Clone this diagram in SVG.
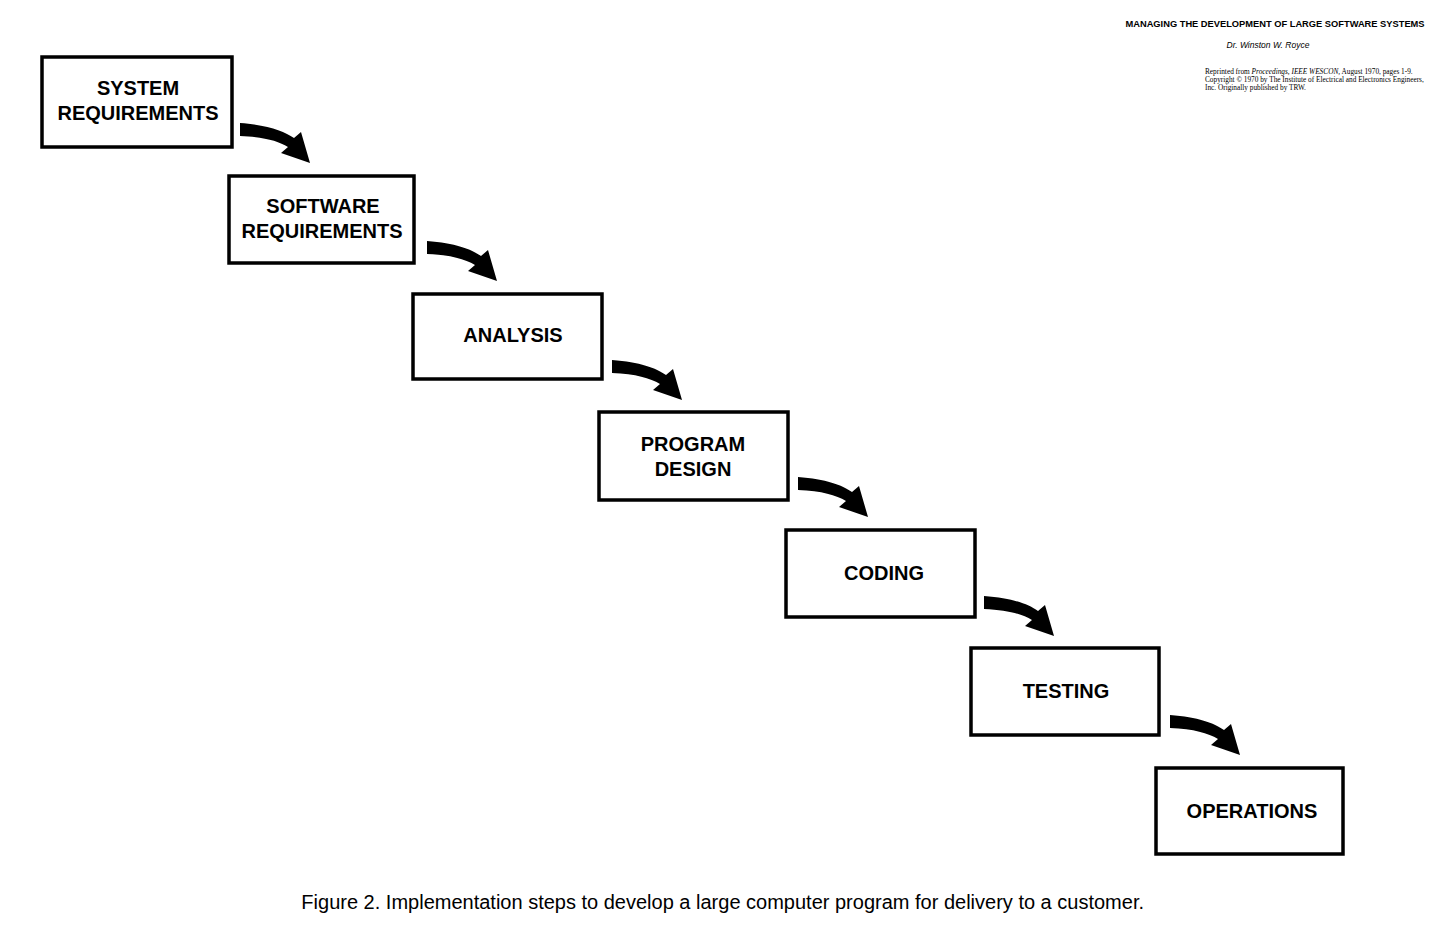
<svg xmlns="http://www.w3.org/2000/svg" xmlns:xlink="http://www.w3.org/1999/xlink" width="1456" height="940" viewBox="0 0 1456 940">
<style>
.box{fill:#fff;stroke:#000;stroke-width:3.5}
.lbl{font-family:"Liberation Sans",Arial,sans-serif;font-weight:bold;font-size:20px;text-anchor:middle;fill:#000}
.hd{font-family:"Liberation Sans",Arial,sans-serif;fill:#000}
</style>
<defs>
<path id="arr" d="M0,0 C28,2 44,8 54,15 L61,9 L70,40 L41,30 L48,24 C38,18 24,14 0,13 Z" fill="#000"/>
</defs>
<rect width="1456" height="940" fill="#fff"/>
<g id="connectors">
<use xlink:href="#arr" x="240" y="123"/>
<use xlink:href="#arr" x="427" y="241"/>
<use xlink:href="#arr" x="612" y="360"/>
<use xlink:href="#arr" x="798" y="477"/>
<use xlink:href="#arr" x="984" y="596"/>
<use xlink:href="#arr" x="1170" y="715"/>
</g>
<g id="n1"><rect class="box" x="42" y="57" width="190" height="90"/><text class="lbl" x="138" y="95">SYSTEM</text><text class="lbl" x="138" y="120">REQUIREMENTS</text></g>
<g id="n2"><rect class="box" x="229" y="176" width="185" height="87"/><text class="lbl" x="323" y="213">SOFTWARE</text><text class="lbl" x="322" y="238">REQUIREMENTS</text></g>
<g id="n3"><rect class="box" x="413" y="294" width="189" height="85"/><text class="lbl" x="513" y="342">ANALYSIS</text></g>
<g id="n4"><rect class="box" x="599" y="412" width="189" height="88"/><text class="lbl" x="693" y="451">PROGRAM</text><text class="lbl" x="693" y="476">DESIGN</text></g>
<g id="n5"><rect class="box" x="786" y="530" width="189" height="87"/><text class="lbl" x="884" y="580">CODING</text></g>
<g id="n6"><rect class="box" x="971" y="648" width="188" height="87"/><text class="lbl" x="1066" y="698">TESTING</text></g>
<g id="n7"><rect class="box" x="1156" y="768" width="187" height="86"/><text class="lbl" x="1252" y="818">OPERATIONS</text></g>
<text class="hd" x="1275" y="27" font-size="9.3" font-weight="bold" text-anchor="middle">MANAGING THE DEVELOPMENT OF LARGE SOFTWARE SYSTEMS</text>
<text class="hd" x="1268" y="48" font-size="8.5" font-style="italic" text-anchor="middle">Dr. Winston W. Royce</text>
<g font-family="Liberation Serif,serif" font-size="7.3" fill="#000">
<text x="1205" y="74">Reprinted from <tspan font-style="italic">Proceedings, IEEE WESCON,</tspan> August 1970, pages 1-9.</text>
<text x="1205" y="82">Copyright © 1970 by The Institute of Electrical and Electronics Engineers,</text>
<text x="1205" y="90">Inc. Originally published by TRW.</text>
</g>
<text x="1144" y="909" font-family="Liberation Sans,Arial,sans-serif" font-size="20" text-anchor="end" fill="#000">Figure 2.  Implementation steps to develop a large computer program for delivery to a customer.</text>
</svg>
